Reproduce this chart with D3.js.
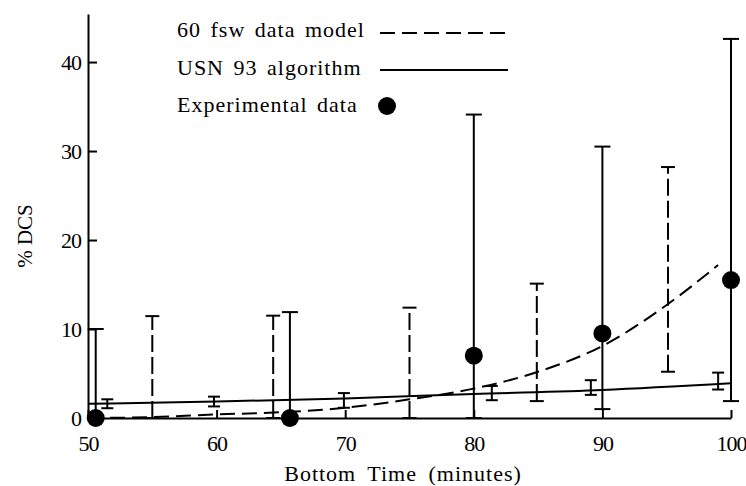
<!DOCTYPE html>
<html>
<head>
<meta charset="utf-8">
<script src="https://cdn.jsdelivr.net/npm/d3@7"></script>
<style>
	body { margin: 0; background: #fff; }
	svg { display: block; }
	.dcs-axis path, .dcs-axis line { stroke: #000; stroke-width: 2; }
	.dcs-axis text { font-size: 22px; fill: #000; letter-spacing: -1px; }
	.dcs-label { font-size: 22px; fill: #000; letter-spacing: 1px; word-spacing: 3px; }
	.dcs-label-x { word-spacing: 5px; }
	.dcs-label-y { font-size: 21px; fill: #000; }
</style>
</head>
<body>
<svg id="chart" width="746" height="486"></svg>
<script>

// 60 fsw data model curve
var aModelX = [50, 55, 60, 65, 70, 75, 80, 85, 90, 95, 99];
var aModelY = [0, 0.1, 0.4, 0.65, 1.15, 2.1, 3.3, 5.2, 8.1, 12.7, 17.2];

// model confidence bars (dashed)
var aModelCiX = [55, 64.4, 75, 84.9, 95.1];
var aModelCiLo = [0, 0, 0, 1.9, 5.2];
var aModelCiHi = [11.45, 11.5, 12.4, 15.1, 28.2];

// USN 93 algorithm line
var aUsnX = [50, 60, 70, 80, 90, 100];
var aUsnY = [1.6, 1.85, 2.2, 2.7, 3.15, 3.9];

// USN 93 small bars
var aUsnCiX = [51.5, 59.8, 69.9, 81.4, 89.1, 99.0];
var aUsnCiLo = [1.1, 1.3, 1.15, 2.0, 2.6, 3.2];
var aUsnCiHi = [2.1, 2.4, 2.8, 3.6, 4.25, 5.1];

// experimental data
var aExpX = [50.6, 65.7, 80, 90, 100];
var aExpY = [0, 0, 7.0, 9.5, 15.5];
var aExpLo = [0, 0, 0, 1.0, 1.9];
var aExpHi = [10, 11.9, 34.1, 30.5, 42.6];

var aXTicks = [50, 60, 70, 80, 90, 100];
var aYTicks = [0, 10, 20, 30, 40];
var aLegendNames = ['60 fsw data model', 'USN 93 algorithm', 'Experimental data'];

var strTitleX = 'Bottom Time (minutes)';
var strTitleY = '% DCS';

const strFont = 'Liberation Serif, Times New Roman, serif';


function DrawDcsChart(vSelector)
{
	var sSvg = d3.select(vSelector);

	var nBorderTop = 14;
	var nBorderLeft = 88;
	var nBorderRight = 15;
	var nBorderBottom = 68;

	var nChartWidth = 746 - nBorderLeft - nBorderRight;
	var nChartHeight = 486 - nBorderTop - nBorderBottom;

	var scaleX = d3.scaleLinear()
		.domain([50, 100])
		.range([0, nChartWidth]);

	var scaleY = d3.scaleLinear()
		.domain([0, 45.4])
		.range([nChartHeight, 0]);

	var sChart = sSvg.append('g')
		.attr('transform', 'translate(' + nBorderLeft + ',' + nBorderTop + ')');

	var axisX = d3.axisBottom(scaleX)
		.tickValues(aXTicks)
		.tickSizeInner(-8)
		.tickSizeOuter(0)
		.tickPadding(17)
		.tickFormat(d3.format('d'));

	var axisY = d3.axisLeft(scaleY)
		.tickValues(aYTicks)
		.tickSizeInner(-9)
		.tickSizeOuter(0)
		.tickPadding(7)
		.tickFormat(d3.format('d'));

	sChart.append('g')
		.attr('class', 'dcs-axis')
		.attr('transform', 'translate(0,' + nChartHeight + ')')
		.call(axisX);

	sChart.append('g')
		.attr('class', 'dcs-axis')
		.call(axisY);

	sChart.selectAll('.dcs-axis')
		.attr('font-family', strFont)
		.attr('font-size', null);

	// helper for vertical bars with caps
	function DrawBars(aX, aLo, aHi, nCap, strDash)
	{
		var aRows = aX.map(function(x, i)
			{
				return {x: x, lo: aLo[i], hi: aHi[i]};
			});

		var sBars = sChart.append('g')
			.attr('stroke', '#000')
			.attr('stroke-width', 2)
			.attr('fill', 'none');

		sBars.selectAll('.stem')
			.data(aRows)
			.enter()
				.append('line')
					.attr('x1', function(row) { return scaleX(row.x); })
					.attr('x2', function(row) { return scaleX(row.x); })
					.attr('y1', function(row) { return scaleY(row.lo); })
					.attr('y2', function(row) { return scaleY(row.hi); })
					.attr('stroke-dasharray', strDash);

		['lo', 'hi'].forEach(function(strKey)
			{
				sBars.selectAll('.cap-' + strKey)
					.data(aRows)
					.enter()
						.append('line')
							.attr('x1', function(row) { return scaleX(row.x) - nCap; })
							.attr('x2', function(row) { return scaleX(row.x) + nCap; })
							.attr('y1', function(row) { return scaleY(row[strKey]); })
							.attr('y2', function(row) { return scaleY(row[strKey]); });
			});
	}

	DrawBars(aModelCiX, aModelCiLo, aModelCiHi, 7, '17,5');
	DrawBars(aExpX, aExpLo, aExpHi, 8, null);
	DrawBars(aUsnCiX, aUsnCiLo, aUsnCiHi, 6, null);

	var lineGen = d3.line()
		.x(function(d) { return scaleX(d[0]); })
		.y(function(d) { return scaleY(d[1]); })
		.curve(d3.curveMonotoneX);

	sChart.append('path')
		.datum(d3.zip(aUsnX, aUsnY))
		.attr('d', lineGen)
		.attr('fill', 'none')
		.attr('stroke', '#000')
		.attr('stroke-width', 2);

	sChart.append('path')
		.datum(d3.zip(aModelX, aModelY))
		.attr('d', lineGen)
		.attr('fill', 'none')
		.attr('stroke', '#000')
		.attr('stroke-width', 2)
		.attr('stroke-dasharray', '15,7');

	sChart.selectAll('.dcs-point')
		.data(d3.zip(aExpX, aExpY))
		.enter()
			.append('circle')
				.attr('class', 'dcs-point')
				.attr('cx', function(d) { return scaleX(d[0]); })
				.attr('cy', function(d) { return scaleY(d[1]); })
				.attr('r', 9)
				.attr('fill', '#000');

	// axis titles
	sSvg.append('text')
		.attr('class', 'dcs-label dcs-label-x')
		.attr('font-family', strFont)
		.attr('x', 403)
		.attr('y', 481)
		.attr('text-anchor', 'middle')
		.text(strTitleX);

	sSvg.append('text')
		.attr('class', 'dcs-label-y')
		.attr('font-family', strFont)
		.attr('transform', 'translate(32,236) rotate(-90)')
		.attr('text-anchor', 'middle')
		.text(strTitleY);

	// legend
	var aLegendY = [37, 75, 112];
	var sLegend = sSvg.append('g');

	sLegend.selectAll('text')
		.data(aLegendNames)
		.enter()
			.append('text')
				.attr('class', 'dcs-label')
				.attr('font-family', strFont)
				.attr('x', 177)
				.attr('y', function(d, i) { return aLegendY[i]; })
				.text(function(d) { return d; });

	sLegend.append('line')
		.attr('x1', 380).attr('x2', 508)
		.attr('y1', 33).attr('y2', 33)
		.attr('stroke', '#000').attr('stroke-width', 2)
		.attr('stroke-dasharray', '15,7');

	sLegend.append('line')
		.attr('x1', 380).attr('x2', 508)
		.attr('y1', 70).attr('y2', 70)
		.attr('stroke', '#000').attr('stroke-width', 2);

	sLegend.append('circle')
		.attr('cx', 387).attr('cy', 106)
		.attr('r', 9)
		.attr('fill', '#000');
}

DrawDcsChart('#chart');

</script>
</body>
</html>
